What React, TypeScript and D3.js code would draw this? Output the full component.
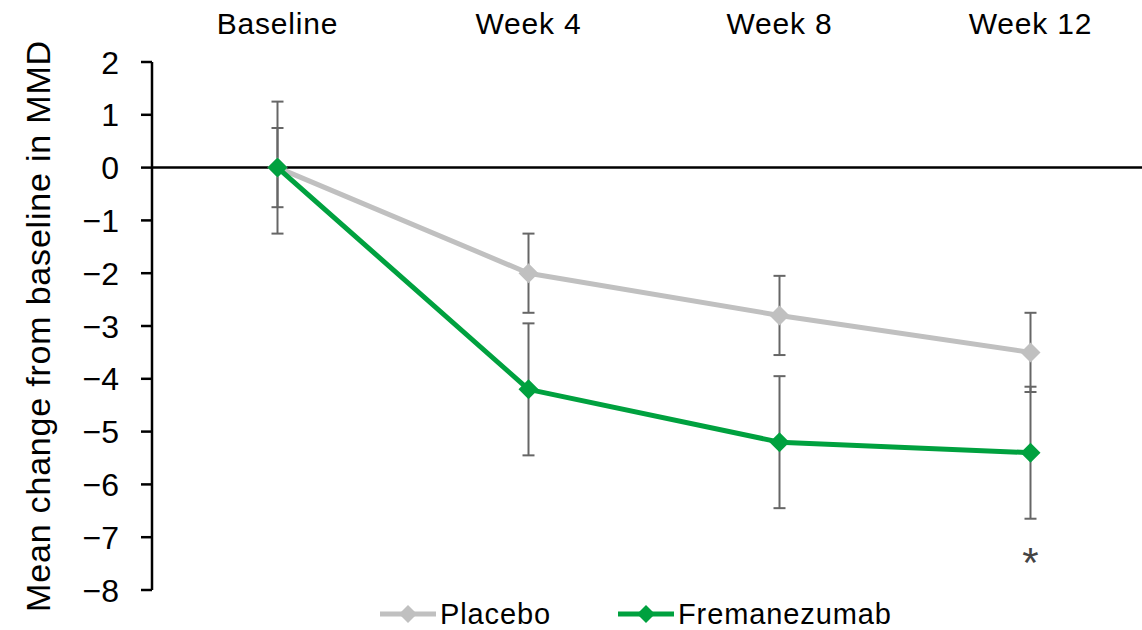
import React from 'react'
import * as d3 from 'd3'

const visits = ['Baseline', 'Week 4', 'Week 8', 'Week 12']
const placebo = [0, -2.0, -2.8, -3.5]
const placeboErr = [0.75, 0.75, 0.75, 0.75]
const fremanezumab = [0, -4.2, -5.2, -5.4]
const fremanezumabErr = [1.25, 1.25, 1.25, 1.25]
const yTicks = [2, 1, 0, -1, -2, -3, -4, -5, -6, -7, -8]

const font = '"Liberation Sans", Arial, sans-serif'

export default function App() {
  const width = 1142
  const height = 630
  const axisX = 152

  const x = d3.scalePoint<string>().domain(visits).range([277.5, 1030.5])
  const y = d3.scaleLinear().domain([-8, 2]).range([590, 62])

  const series = [
    { name: 'Placebo', values: placebo, err: placeboErr, color: '#c0c0c0' },
    { name: 'Fremanezumab', values: fremanezumab, err: fremanezumabErr, color: '#00a13f' },
  ]

  const line = d3.line<number>()
    .x((d, i) => x(visits[i]) as number)
    .y(d => y(d))

  const diamond = (cx: number, cy: number, r: number) =>
    `M${cx},${cy - r}L${cx + r},${cy}L${cx},${cy + r}L${cx - r},${cy}Z`

  const fmt = (v: number) => (v < 0 ? '\u2212' + Math.abs(v) : String(v))

  const legend = [
    { s: series[0], x0: 380 },
    { s: series[1], x0: 618 },
  ]

  return (
    <svg width={width} height={height} style={{ position: 'absolute', left: 0, top: 0, background: '#fff' }} fontFamily={font}>
      {/* category labels across the top */}
      {visits.map(v => (
        <text key={v} x={x(v)} y={34} textAnchor="middle" fontSize={30} letterSpacing={0.8}>{v}</text>
      ))}

      {/* y axis */}
      <line x1={axisX} x2={axisX} y1={y(2)} y2={y(-8)} stroke="#000" strokeWidth={2.5} />
      {yTicks.map(t => (
        <g key={t}>
          <line x1={axisX - 11} x2={axisX} y1={y(t)} y2={y(t)} stroke="#000" strokeWidth={2.5} />
          <text x={119} y={y(t)} dy="0.36em" textAnchor="end" fontSize={32}>{fmt(t)}</text>
        </g>
      ))}
      <text transform={`translate(50,${y(-3)}) rotate(-90)`} textAnchor="middle" fontSize={34} letterSpacing={0.8}>
        Mean change from baseline in MMD
      </text>

      {/* zero line */}
      <line x1={axisX} x2={width} y1={y(0)} y2={y(0)} stroke="#000" strokeWidth={2.5} />

      {/* error bars */}
      {series.map(s => s.values.map((v, i) => {
        const cx = x(visits[i]) as number
        const top = y(v + s.err[i])
        const bot = y(v - s.err[i])
        return (
          <g key={s.name + i} stroke="#666" strokeWidth={2}>
            <line x1={cx} x2={cx} y1={top} y2={bot} />
            <line x1={cx - 6} x2={cx + 6} y1={top} y2={top} />
            <line x1={cx - 6} x2={cx + 6} y1={bot} y2={bot} />
          </g>
        )
      }))}

      {/* lines + markers */}
      {series.map(s => (
        <g key={s.name}>
          <path d={line(s.values) ?? ''} fill="none" stroke={s.color} strokeWidth={5} strokeLinejoin="round" />
          {s.values.map((v, i) => (
            <path key={i} d={diamond(x(visits[i]) as number, y(v), 10)} fill={s.color} />
          ))}
        </g>
      ))}

      {/* significance marker */}
      <text x={x('Week 12')} y={577} textAnchor="middle" fontSize={42} fill="#444">*</text>

      {/* legend */}
      {legend.map(({ s, x0 }) => (
        <g key={s.name}>
          <line x1={x0} x2={x0 + 56} y1={614} y2={614} stroke={s.color} strokeWidth={5} />
          <path d={diamond(x0 + 28, 614, 9)} fill={s.color} />
          <text x={x0 + 60} y={624} fontSize={29} letterSpacing={0.9}>{s.name}</text>
        </g>
      ))}
    </svg>
  )
}
